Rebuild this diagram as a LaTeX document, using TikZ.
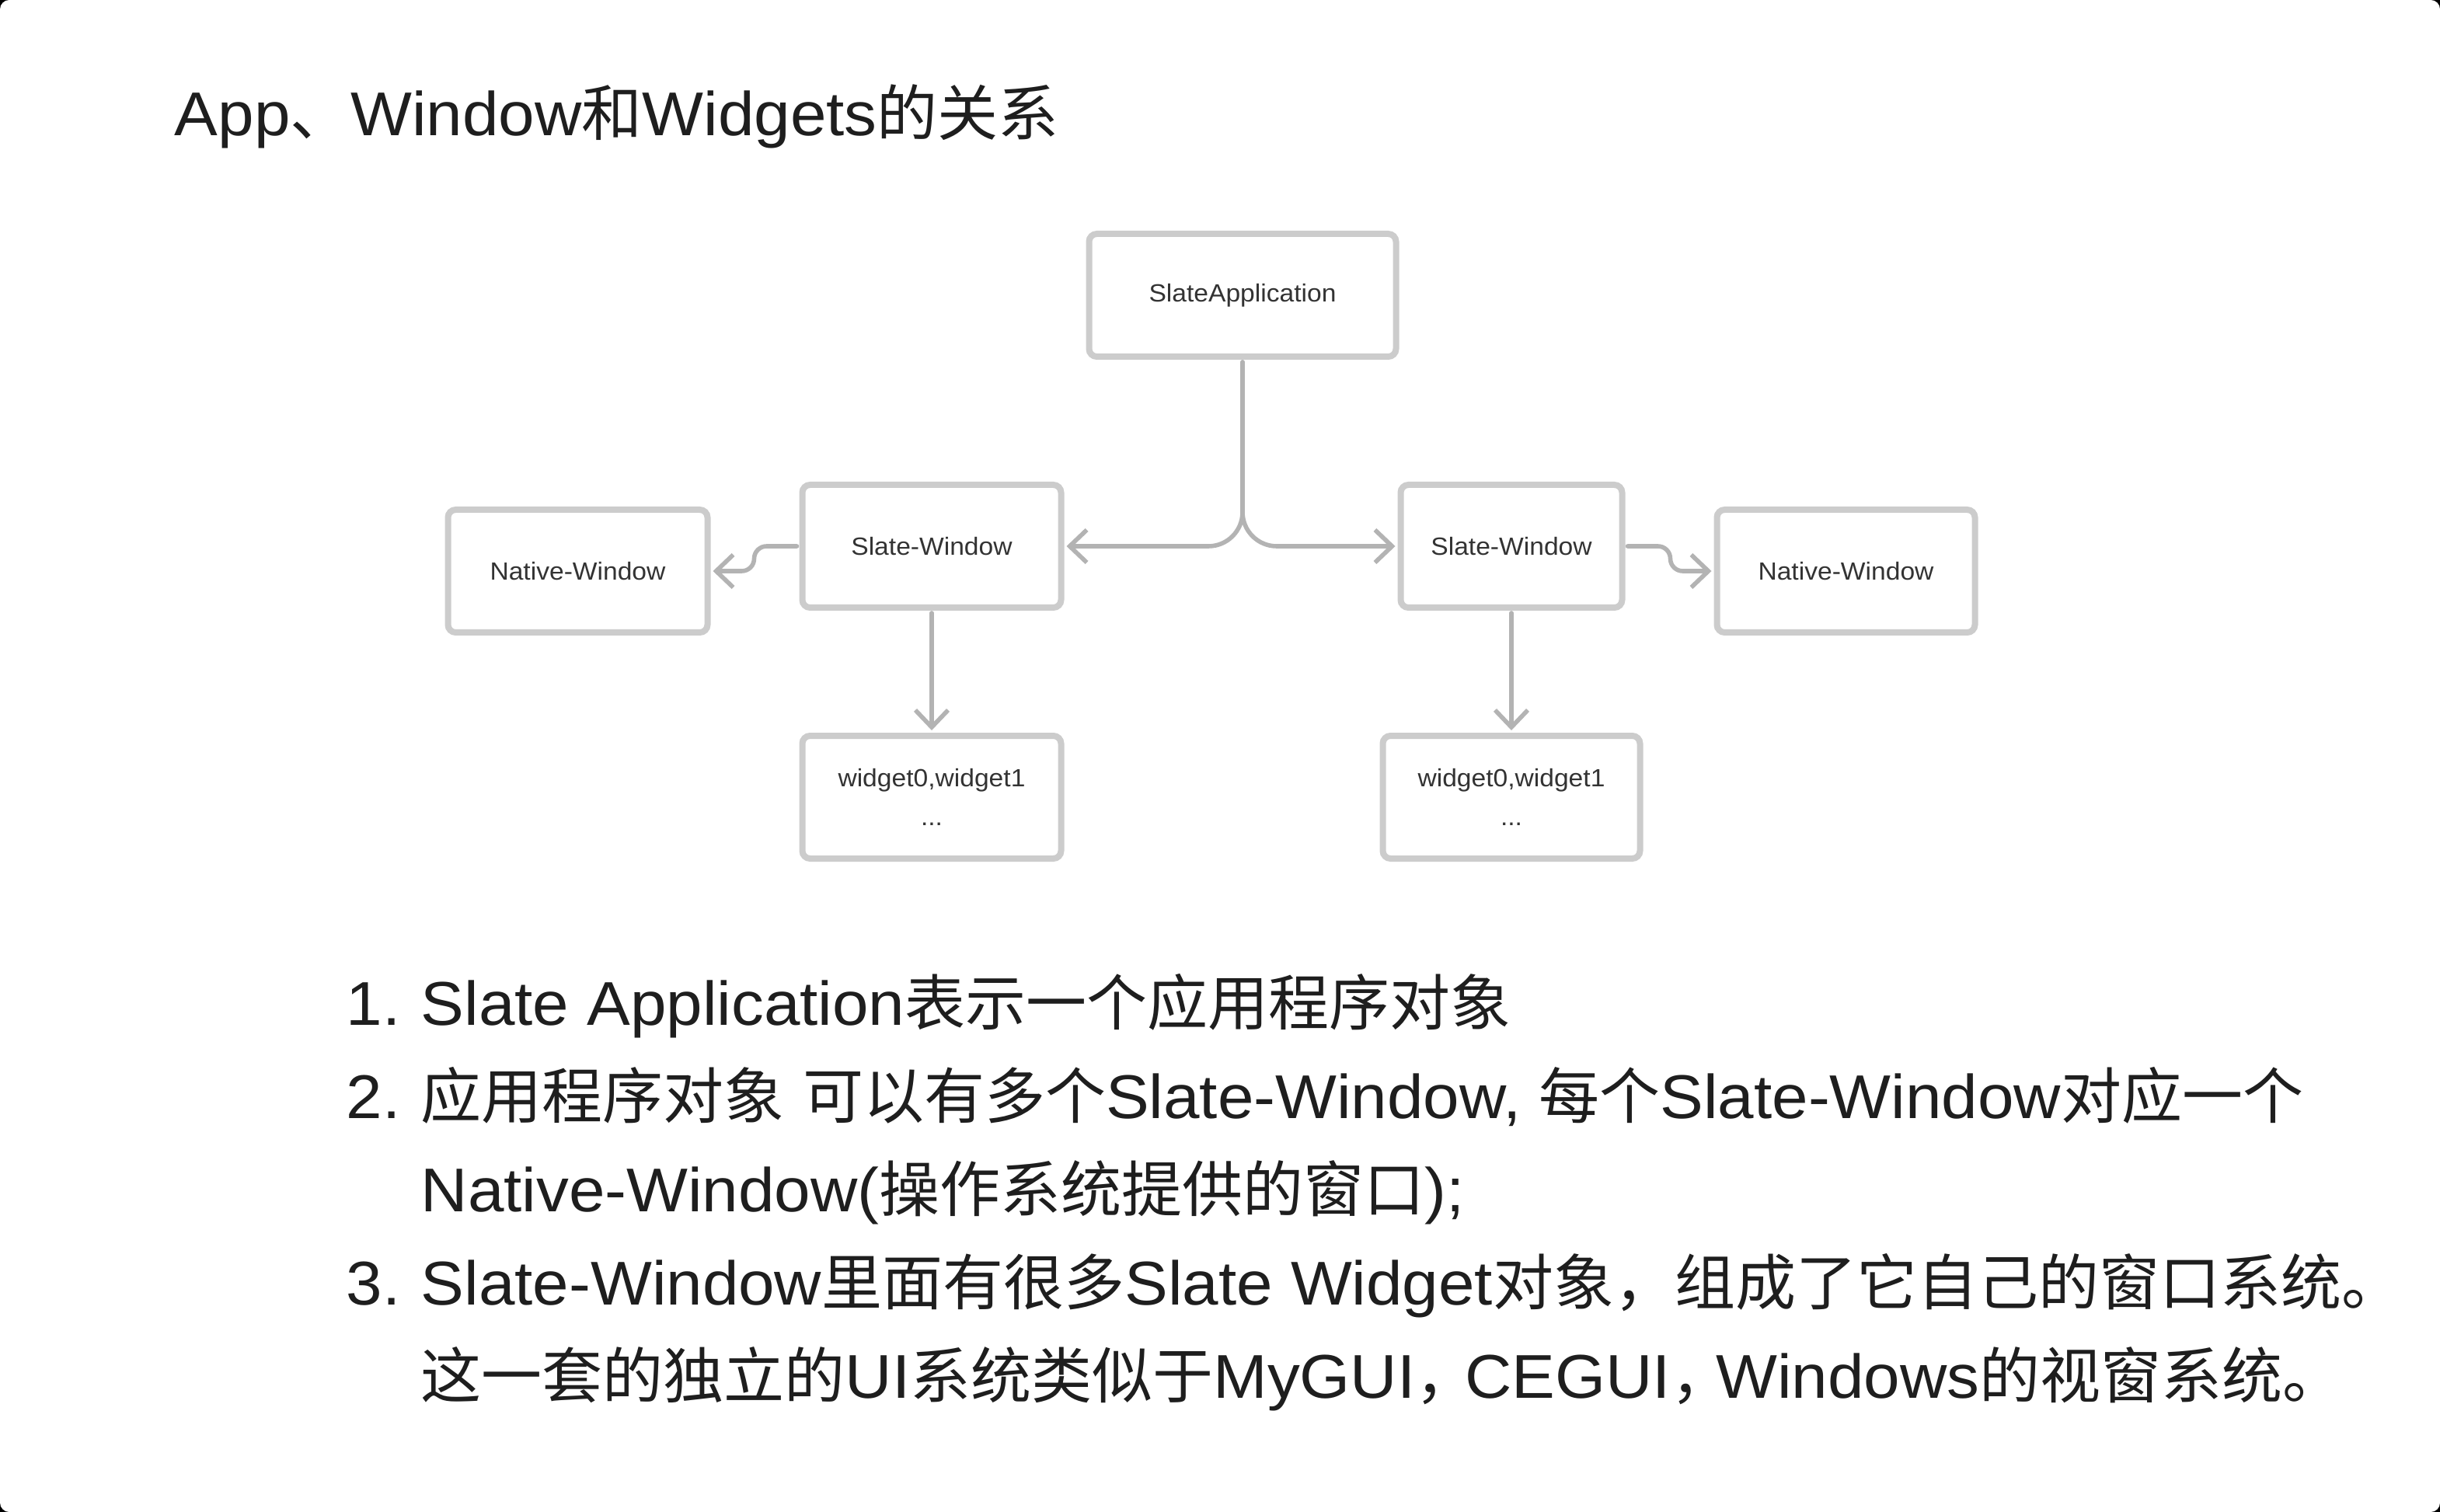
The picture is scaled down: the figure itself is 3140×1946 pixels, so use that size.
\documentclass[tikz,border=0pt]{standalone}
\usepackage{fontspec}
\setmainfont{Liberation Sans}[FakeStretch=1.05]
\newfontfamily\zh{Noto Sans CJK SC}[Scale=0.98]
\usepackage{tikz}
\usetikzlibrary{arrows.meta,positioning}
\definecolor{boxgray}{HTML}{CCCCCC}
\definecolor{linegray}{HTML}{B3B3B3}
\definecolor{ink}{HTML}{1E1E1E}
\tikzstyle{blk}=[draw=boxgray, line width=2pt, outer sep=1pt, rounded corners=2.5pt, fill=white, align=center, minimum height=39.5pt, text=black!80, font=\fontsize{8}{12.5}\selectfont]
\tikzstyle{conn}=[->, draw=linegray, line width=1.4pt, line cap=round, shorten >=0.75pt, shorten <=0.75pt]
\tikzstyle{big}=[inner sep=0pt, anchor=base west, text=ink, font=\fontsize{19.9}{30}\selectfont]

\begin{document}
\begin{tikzpicture}[x=0.25pt,y=-0.25pt,node distance=39.25pt,>={Straight Barb[length=5.5pt,width=10.5pt]}]
    \fill[black] (0,0) rectangle (3140,1946);
    \fill[white,rounded corners=3pt] (0,0) rectangle (3140,1946);
    \useasboundingbox (0,0) rectangle (3140,1946);

    \node[big] (title) at (224,175) {App{\zh 、}Window{\zh 和}Widgets{\zh 的关系}};

    % diagram
    \node[blk, minimum width=98.75pt] (app) at (1599,380) {SlateApplication};
    \node[blk, minimum width=83.25pt] (swl) [below left=39.25pt and 7pt of app] {Slate-Window};
    \node[blk, minimum width=71.25pt] (swr) [below right=39.25pt and -0.5pt of app] {Slate-Window};
    \node[blk, minimum width=83.5pt] (nwl) [left=28.5pt of swl, yshift=-8pt] {Native-Window};
    \node[blk, minimum width=83pt] (nwr) [right=28.5pt of swr, yshift=-8pt] {Native-Window};
    \node[blk, minimum width=83.25pt] (wgl) [below=of swl] {widget0,widget1\\...};
    \node[blk, minimum width=82.75pt] (wgr) [below=of swr] {widget0,widget1\\...};

    \draw[conn, rounded corners=11pt] (app.south) |- (swl.east);
    \draw[conn, rounded corners=11pt] (app.south) |- (swr.west);
    \draw[conn, rounded corners=4pt] (swl.west) -- ++(-14.5pt,0) |- (nwl.east);
    \draw[conn, rounded corners=4pt] (swr.east) -- ++(14.5pt,0) |- (nwr.west);
    \draw[conn] (swl.south) -- (wgl.north);
    \draw[conn] (swr.south) -- (wgr.north);

    % list
    \node[big] (n1) at (445,1319) {1.};
    \node[big] (l1) at (541,1319) {Slate Application{\zh 表示一个应用程序对象}};
    \node[big] (n2) at (445,1439) {2.};
    \node[big] (l2) at (541,1439) {{\zh 应用程序对象} {\zh 可以有多个}Slate-Window, {\zh 每个}Slate-Window{\zh 对应一个}};
    \node[big] (l3) at (541,1559) {Native-Window({\zh 操作系统提供的窗口});};
    \node[big] (n3) at (445,1679) {3.};
    \node[big] (l4) at (541,1679) {Slate-Window{\zh 里面有很多}Slate Widget{\zh 对象，组成了它自己的窗口系统。}};
    \node[big] (l5) at (541,1799) {{\zh 这一套的独立的}UI{\zh 系统类似于}MyGUI{\zh ，}\kern-3.5pt CEGUI{\zh ，}\kern-5pt Windows{\zh 的视窗系统。}};
\end{tikzpicture}
\end{document}
